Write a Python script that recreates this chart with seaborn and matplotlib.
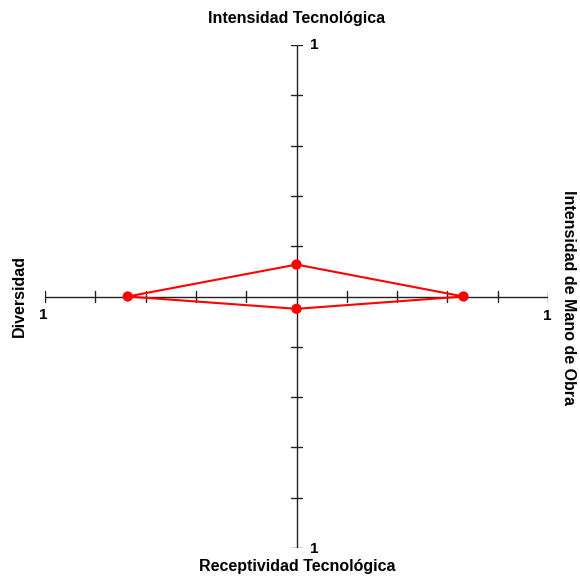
import matplotlib
matplotlib.use("Agg")
import matplotlib.pyplot as plt
import seaborn as sns
import numpy as np
import pandas as pd

# Four indicators, one per axis direction
indicators = ["Intensidad Tecnológica", "Intensidad de Mano de Obra",
              "Receptividad Tecnológica", "Diversidad"]
values = [0.127, 0.664, 0.049, 0.671]
# unit direction of each indicator axis (up, right, down, left)
dir_x = [0, 1, 0, -1]
dir_y = [1, 0, -1, 0]
tick_values = [0.2, 0.4, 0.6, 0.8, 1.0]

sns.set_theme(style="white")
plt.rcParams["font.family"] = ["Liberation Sans", "DejaVu Sans"]

W, H = 580, 577
fig = plt.figure(figsize=(W / 100, H / 100), dpi=100)
ax = fig.add_axes([45 / W, (H - 548) / H, 503 / W, 503 / H])
ax.set_xlim(-1, 1)
ax.set_ylim(-1, 1)

axis_color = "#222222"
ax.plot([-1, 1], [0, 0], color=axis_color, lw=1.0, zorder=1)
ax.plot([0, 0], [-1, 1], color=axis_color, lw=1.0, zorder=1)

tl = 0.02
for t in tick_values:
    for s in (-1, 1):
        ax.plot([s * t, s * t], [-tl, tl], color=axis_color, lw=1.0, zorder=1)
        ax.plot([-tl, tl], [s * t, s * t], color=axis_color, lw=1.0, zorder=1)

df = pd.DataFrame({
    "indicator": indicators,
    "x": [v * dx for v, dx in zip(values, dir_x)],
    "y": [v * dy for v, dy in zip(values, dir_y)],
})
closed = pd.concat([df, df.iloc[[0]]], ignore_index=True)

sns.lineplot(data=closed, x="x", y="y", sort=False, estimator=None,
             color="#ff0000", lw=1.5, ax=ax, zorder=3)
sns.scatterplot(data=df, x="x", y="y", color="#ff0000", s=55,
                edgecolor="none", ax=ax, zorder=4)
ax.axis("off")

lab_kw = dict(fontsize=11, fontweight="bold", color="black")
ax.text(0.054, 1.0, "1", ha="left", va="center", **lab_kw)
ax.text(0.054, -1.004, "1", ha="left", va="center", **lab_kw)
ax.text(0.997, -0.078, "1", ha="center", va="center", **lab_kw)
ax.text(-1.005, -0.075, "1", ha="center", va="center", **lab_kw)

title_kw = dict(fontsize=11.5, fontweight="bold", color="black")
fig.text(297 / W, 1 - 18 / H, indicators[0], ha="center", va="center", **title_kw)
fig.text(297 / W, 1 - 567 / H, indicators[2], ha="center", va="center", **title_kw)
fig.text(569 / W, 1 - 297 / H, indicators[1], ha="center", va="center",
         rotation=-90, **title_kw)
fig.text(19 / W, 1 - 296 / H, indicators[3], ha="center", va="center",
         rotation=90, **title_kw)

fig.savefig("out.png", dpi=100, facecolor="white")
